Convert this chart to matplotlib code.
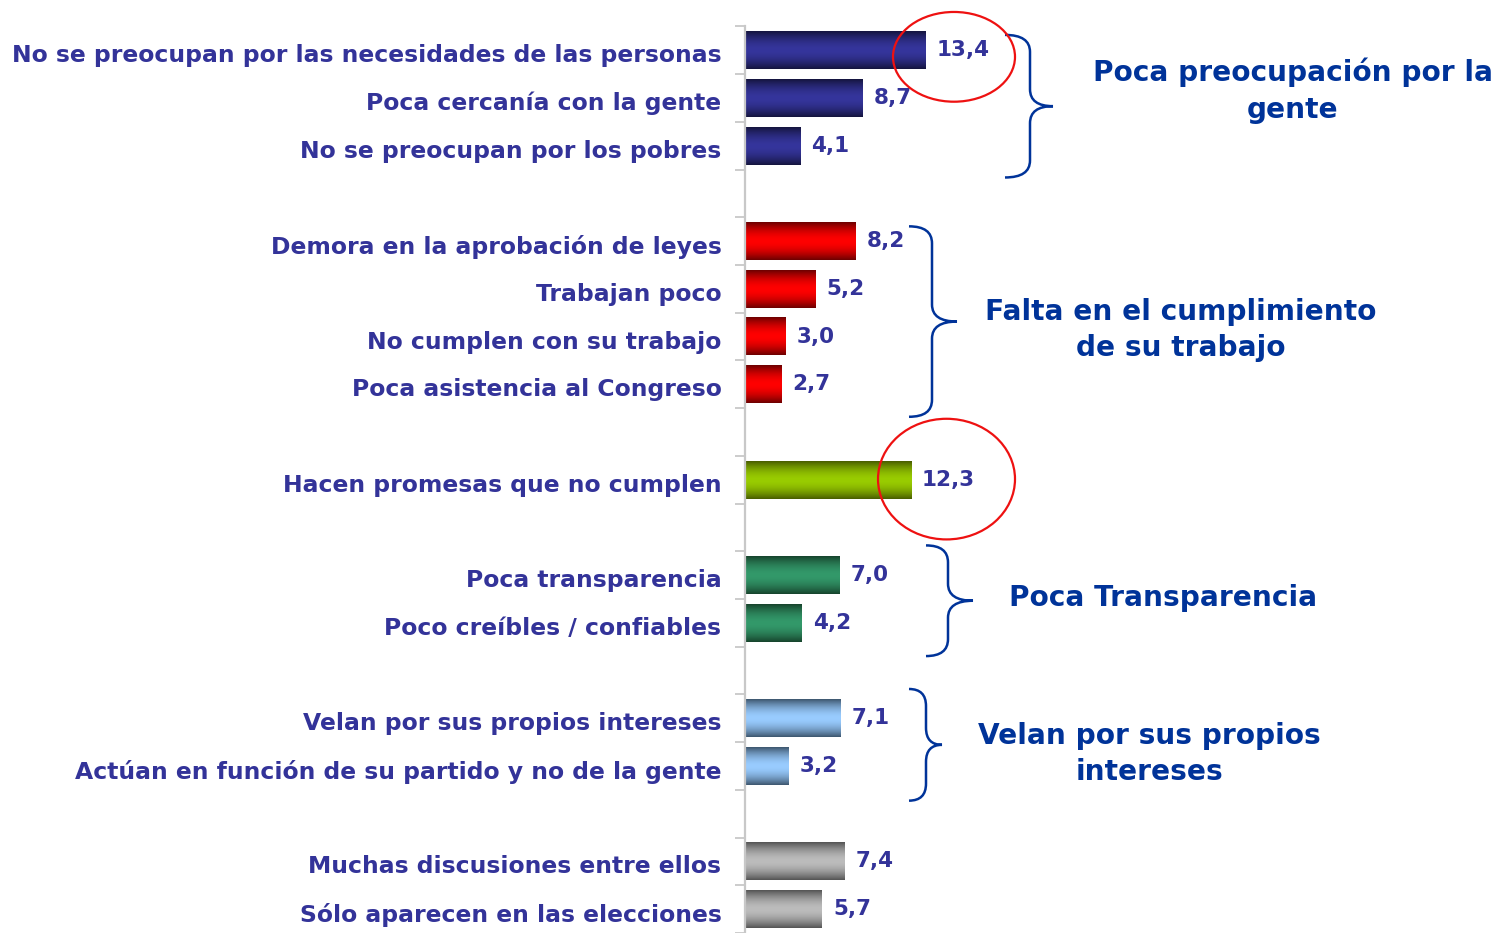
import matplotlib
matplotlib.use("Agg")
import matplotlib.pyplot as plt
import matplotlib.transforms as mtransforms
import numpy as np
from matplotlib.colors import LinearSegmentedColormap
from matplotlib.patches import Ellipse, PathPatch
from matplotlib.path import Path

# Categories top to bottom; None marks an empty slot between groups
labels = [
	"No se preocupan por las necesidades de las personas",
	"Poca cercanía con la gente",
	"No se preocupan por los pobres",
	None,
	"Demora en la aprobación de leyes",
	"Trabajan poco",
	"No cumplen con su trabajo",
	"Poca asistencia al Congreso",
	None,
	"Hacen promesas que no cumplen",
	None,
	"Poca transparencia",
	"Poco creíbles / confiables",
	None,
	"Velan por sus propios intereses",
	"Actúan en función de su partido y no de la gente",
	None,
	"Muchas discusiones entre ellos",
	"Sólo aparecen en las elecciones",
]
values = [13.4, 8.7, 4.1, None, 8.2, 5.2, 3.0, 2.7, None, 12.3, None,
		  7.0, 4.2, None, 7.1, 3.2, None, 7.4, 5.7]
groups = [0, 0, 0, None, 1, 1, 1, 1, None, 2, None, 3, 3, None, 4, 4, None, 5, 5]

# (edge colour, middle colour) for the shaded bars
group_colors = [
	("#15153f", "#35359c"),
	("#6e0000", "#ff0000"),
	("#4a5e00", "#99cc00"),
	("#17452d", "#33996a"),
	("#3f5870", "#99ccff"),
	("#555555", "#bcbcbc"),
]

group_titles = ["Poca preocupación por la\ngente",
				"Falta en el cumplimiento\nde su trabajo",
				"Poca Transparencia",
				"Velan por sus propios\nintereses"]

text_color = "#333399"
title_color = "#003399"

W, H = 1496, 933
fig = plt.figure(figsize=(W / 100, H / 100), dpi=100)

# pixel layout of the reference
x0_px = 745.0       # value 0
px_per_unit = 13.5
y0_px = 50.5        # centre of first slot
slot_px = 47.85

ax = fig.add_axes([x0_px / W, 0, (W - x0_px) / W, 1])
ax.set_xlim(0, (W - x0_px) / px_per_unit)
ax.set_ylim((H - y0_px) / slot_px, -y0_px / slot_px)


def to_data(px, py):
	return (px - x0_px) / px_per_unit, (py - y0_px) / slot_px


bar_h = 0.79
t = np.linspace(-1, 1, 64)
shade = (1 - np.abs(t) ** 1.8)[:, None]

for i, (lab, val, g) in enumerate(zip(labels, values, groups)):
	if val is None:
		continue
	edge, mid = group_colors[g]
	cmap = LinearSegmentedColormap.from_list(f"g{g}", [edge, mid])
	ax.imshow(shade, cmap=cmap, vmin=0, vmax=1, aspect="auto",
			  extent=[0, val, i + bar_h / 2, i - bar_h / 2],
			  interpolation="bilinear", zorder=2)
	ax.text(val + 11 / px_per_unit, i, f"{val:.1f}".replace(".", ","),
			color=text_color, fontsize=15.5, fontweight="bold",
			va="center", ha="left")

# axis: ticks between slots, labels at slot centres
n = len(labels)
ax.set_yticks(range(n))
ax.set_yticklabels([l if l else "" for l in labels])
ax.set_yticks(np.arange(n + 1) - 0.5, minor=True)
ax.tick_params(axis="y", which="major", length=0, pad=17,
			   labelcolor=text_color, labelsize=16.9)
ax.tick_params(axis="y", which="minor", length=7, width=1.3, color="#c8c8c8")
shift = mtransforms.ScaledTranslation(0, -3 / 100, fig.dpi_scale_trans)
for tl in ax.get_yticklabels():
	tl.set_fontweight("bold")
	tl.set_transform(tl.get_transform() + shift)
ax.set_xticks([])
for s in ["top", "right", "bottom"]:
	ax.spines[s].set_visible(False)
ax.spines["left"].set_color("#c8c8c8")
ax.spines["left"].set_linewidth(1.6)
ax.spines["left"].set_bounds(-0.5, n)
ax.spines["left"].set_zorder(3)


def brace(x_end, x_tip, y_top, y_bot, x_mid):
	ym = (y_top + y_bot) / 2
	r = 17
	pts = [(x_end, y_top), (x_mid, y_top), (x_mid, y_top + r),
		   (x_mid, ym - r), (x_mid, ym), (x_tip, ym),
		   (x_mid, ym), (x_mid, ym + r),
		   (x_mid, y_bot - r), (x_mid, y_bot), (x_end, y_bot)]
	codes = [Path.MOVETO, Path.CURVE3, Path.CURVE3,
			 Path.LINETO, Path.CURVE3, Path.CURVE3,
			 Path.CURVE3, Path.CURVE3,
			 Path.LINETO, Path.CURVE3, Path.CURVE3]
	verts = [to_data(*p) for p in pts]
	ax.add_patch(PathPatch(Path(verts, codes), fill=False, lw=1.8,
						   edgecolor=title_color, clip_on=False, zorder=4))


brace(1005, 1053, 35, 178, 1030)
brace(909, 957, 227, 418, 932)
brace(926, 973, 547, 658, 948)
brace(909, 942, 691, 803, 926)

title_pos = [(1293, 91), (1181, 331), (1163, 600), (1149, 756)]
for (px, py), txt in zip(title_pos, group_titles):
	x, y = to_data(px, py)
	ax.text(x, y, txt, color=title_color, fontsize=20.2, fontweight="bold",
			ha="center", va="center", linespacing=1.37)

# red circles around the two highest values
for (cx, cy, w, h) in [(954, 57, 122, 90), (946.5, 480.5, 137, 121)]:
	x, y = to_data(cx, cy)
	ax.add_patch(Ellipse((x, y), w / px_per_unit, h / slot_px, fill=False,
						 edgecolor="#ee1111", lw=1.6, zorder=5, clip_on=False))

fig.savefig("out.png", dpi=100)
